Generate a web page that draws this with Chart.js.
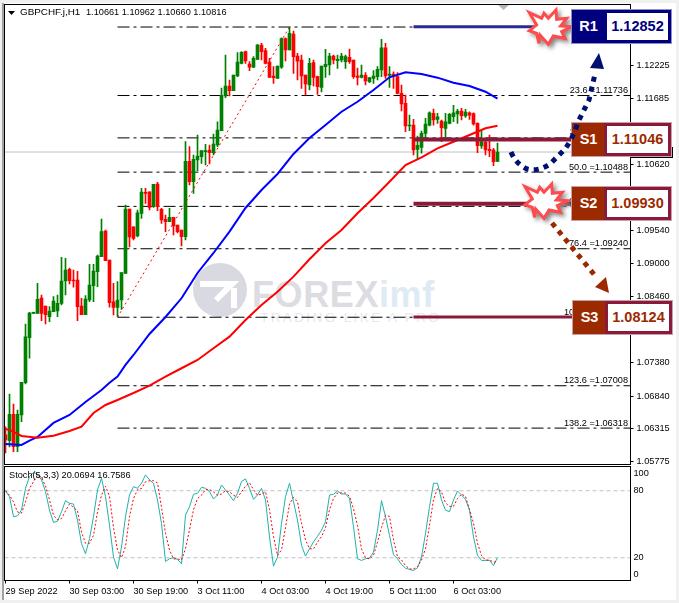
<!DOCTYPE html>
<html>
<head>
<meta charset="utf-8">
<script src="https://cdn.jsdelivr.net/npm/chart.js@4"></script>
<style>
html, body { margin: 0; padding: 0; background: #f0f0f0; }
body { width: 679px; height: 603px; position: relative; overflow: hidden; font-family: "Liberation Sans", sans-serif; }
.sheet { position: absolute; left: 2px; top: 3px; width: 674px; height: 597px; background: #fff; border-left: 2px solid #a0a0a0; box-sizing: border-box; }
canvas { position: absolute; left: 0; }
.abs { position: absolute; white-space: pre; }
.head { font-size: 9.2px; color: #000; line-height: 12px; }
.mark { position: absolute; left: 0; top: 0; }
.box { position: absolute; width: 99px; height: 33px; box-sizing: border-box; font: bold 14.5px/27px "Liberation Sans", sans-serif; box-shadow: 0 0 0 1px var(--halo); }
.box b { position: absolute; left: 0; top: 0; width: 33px; height: 33px; background: var(--tag); color: #fff; text-align: center; line-height: 33px; }
.box span { position: absolute; left: 32px; top: 0; width: 67px; height: 33px; box-sizing: border-box; background: #fff; border: 3px solid var(--edge); color: var(--tag); text-align: center; }
</style>
</head>
<body>
<div class="sheet"></div>

<!-- watermark sits under the canvases -->
<svg class="mark" width="679" height="603">
	<circle cx="220" cy="290" r="27" fill="#d9d9e1"/>
	<path d="M200 284 L232 284 L216 300 M234 288 L234 308" stroke="#fff" stroke-width="6" fill="none"/>
</svg>
<div class="abs" style="left:252px;top:274px;font:bold 36px/42px 'Liberation Sans';letter-spacing:0.6px;color:#dcdce2">FOREX<span style="color:#deebf4">imf</span></div>
<div class="abs" style="left:260px;top:310px;font:13.5px/16px 'Liberation Sans';letter-spacing:2.4px;color:#e8e8ec">TRADING LIKE A PRO</div>

<canvas id="main" width="679" height="466" style="top:0"></canvas>
<canvas id="stoch" width="679" height="137" style="top:466px"></canvas>

<div class="abs" style="left:631px;top:147px;width:42px;height:11px;background:#000"></div>

<div class="abs head" style="left:20px;top:6px;font-size:9.9px">GBPCHF.j,H1</div>
<div class="abs head" style="left:86px;top:6px">1.10661 1.10962 1.10660 1.10816</div>
<div class="abs head" style="left:9px;top:469px">Stoch(5,3,3) 20.0694 16.7586</div>

<svg class="mark" width="679" height="603">
	<path d="M8 11 L15 11 L11.5 15 Z" fill="#000"/>
	<path d="M498 5 L509 5 L503.5 10 Z" fill="#b4b4b4"/>
	<g transform="translate(340 0) scale(0.3333)" style="filter:drop-shadow(8px 8px 6px #888)">
		<path d="M568 38 L605 55 L612 40 L625 55 L648 30 L650 58 L680 55 L662 78 L695 80 L665 95 L675 115 L640 108 L625 133 L600 105 L597 130 L590 100 L568 92 L590 75 Z" fill="#fff" stroke="#ff4b4b" stroke-width="9"/>
	</g>
	<g transform="translate(335.7 174) scale(0.3333)" style="filter:drop-shadow(8px 8px 6px #888)">
		<path d="M568 38 L605 55 L612 40 L625 55 L648 30 L650 58 L680 55 L662 78 L695 80 L665 95 L675 115 L640 108 L625 133 L600 105 L597 130 L590 100 L568 92 L590 75 Z" fill="#fff" stroke="#ff4b4b" stroke-width="9"/>
	</g>
</svg>

<div class="box" style="left:572px;top:10px;--tag:#00007f;--edge:#00007f;--halo:#8f8fc4"><b>R1</b><span>1.12852</span></div>
<div class="box" style="left:572px;top:123px;--tag:#9c2a00;--edge:#8b1a3a;--halo:#c9a0ad"><b>S1</b><span>1.11046</span></div>
<div class="box" style="left:572px;top:187px;--tag:#9c2a00;--edge:#8b1a3a;--halo:#c9a0ad"><b>S2</b><span>1.09930</span></div>
<div class="box" style="left:573px;top:301px;--tag:#9c2a00;--edge:#8b1a3a;--halo:#c9a0ad"><b>S3</b><span>1.08124</span></div>

<svg class="mark" width="679" height="603">
	<path d="M511 152 Q516 164 527 169 Q538 172 550 164 L565 149 Q573 138 578 122 L589 100 L595 74" fill="none" stroke="#00106e" stroke-width="5" stroke-dasharray="5 5.2"/>
	<path d="M599 53 L590 68 L604 69 Z" fill="#00106e"/>
	<path d="M552 223 L597 278" fill="none" stroke="#9c2a00" stroke-width="5" stroke-dasharray="5 5.2"/>
	<path d="M609 293 L595 287 L606 277 Z" fill="#9c2a00"/>
</svg>

<script>
// GBPCHF H1 candles, one entry per bar
const opens = [
	1.06207,1.06114,1.06543,1.06016,1.06532,1.07058,1.07791,1.08188,1.08188,1.08438,
	1.08307,1.08133,1.08214,1.08226,1.08351,1.08714,1.08905,1.08720,1.08731,1.08307,
	1.08165,1.08405,1.08638,1.08866,1.09111,1.09529,1.09057,1.08377,1.08286,1.08405,
	1.08839,1.09887,1.09598,1.09447,1.09817,1.10153,1.10169,1.09925,1.10295,1.09882,
	1.09719,1.09680,1.09751,1.09626,1.09545,1.09436,1.10664,1.10332,1.10686,1.10740,
	1.10822,1.10849,1.10805,1.10930,1.11163,1.11729,1.11891,1.11815,1.12054,1.12261,
	1.12450,1.12250,1.12196,1.12326,1.12559,1.12467,1.12282,1.12054,1.12016,1.12196,
	1.12662,1.12478,1.12738,1.12380,1.12315,1.12070,1.11907,1.12271,1.12043,1.11870,
	1.12206,1.12233,1.12380,1.12304,1.12315,1.12288,1.12359,1.12315,1.12054,1.12033,
	1.12065,1.11961,1.12016,1.12043,1.12152,1.12515,1.12065,1.12087,1.12043,1.11772,
	1.11609,1.11239,1.11255,1.10860,1.10892,1.11120,1.11255,1.11445,1.11348,1.11321,
	1.11201,1.11283,1.11390,1.11435,1.11484,1.11402,1.11456,1.11440,1.11283,1.10914,
	1.10979,1.10860,1.10849,1.10661
];
const highs = [
	1.06337,1.06874,1.06711,1.06613,1.07065,1.08014,1.08205,1.08210,1.08677,1.08487,
	1.08307,1.08296,1.08459,1.08487,1.09101,1.09085,1.08926,1.08894,1.08873,1.08433,
	1.08475,1.08987,1.08987,1.09138,1.09724,1.09545,1.09057,1.08677,1.08703,1.08850,
	1.09952,1.09887,1.09598,1.09871,1.10225,1.10225,1.10169,1.10290,1.10323,1.09899,
	1.09789,1.09899,1.09751,1.09626,1.09545,1.10984,1.10903,1.10767,1.11093,1.10838,
	1.10942,1.10930,1.11109,1.11309,1.11858,1.12396,1.11989,1.12070,1.12434,1.12450,
	1.12462,1.12288,1.12369,1.12571,1.12586,1.12506,1.12342,1.12206,1.12217,1.12678,
	1.12678,1.12852,1.12787,1.12424,1.12396,1.12070,1.12342,1.12315,1.12054,1.12217,
	1.12489,1.12424,1.12396,1.12396,1.12424,1.12396,1.12494,1.12315,1.12184,1.12233,
	1.12108,1.12033,1.12141,1.12206,1.12652,1.12586,1.12206,1.12124,1.12108,1.11907,
	1.11745,1.11418,1.11348,1.11076,1.11158,1.11364,1.11472,1.11516,1.11445,1.11337,
	1.11445,1.11445,1.11576,1.11511,1.11528,1.11511,1.11472,1.11456,1.11293,1.11163,
	1.11039,1.11093,1.10876,1.10962
];
const lows = [
	1.05913,1.06011,1.05934,1.05934,1.06423,1.07037,1.07456,1.08188,1.08188,1.08067,
	1.08014,1.08051,1.08214,1.08133,1.08323,1.08487,1.08666,1.08612,1.08067,1.08165,
	1.08165,1.08377,1.08377,1.08622,1.09111,1.09046,1.08289,1.08161,1.08133,1.08253,
	1.08839,1.09268,1.09383,1.09431,1.09735,1.09980,1.09871,1.09915,1.09860,1.09654,
	1.09518,1.09680,1.09464,1.09497,1.09285,1.09383,1.10278,1.10143,1.10512,1.10632,
	1.10604,1.10621,1.10767,1.10903,1.11163,1.11701,1.11729,1.11815,1.12043,1.12250,
	1.12261,1.12141,1.12190,1.12326,1.12315,1.12250,1.12033,1.11935,1.12016,1.12179,
	1.12299,1.12478,1.12098,1.11989,1.11853,1.11745,1.11826,1.11891,1.11756,1.11793,
	1.12033,1.12070,1.12250,1.12179,1.12282,1.12179,1.12261,1.12016,1.11907,1.12022,
	1.11907,1.11945,1.11935,1.11989,1.12043,1.12016,1.11870,1.11853,1.11761,1.11484,
	1.11147,1.11163,1.10767,1.10697,1.10795,1.11011,1.11239,1.11255,1.11283,1.10983,
	1.11011,1.11272,1.11309,1.11283,1.11337,1.11381,1.11348,1.11255,1.10805,1.10876,
	1.10767,1.10740,1.10592,1.10660
];
const closes = [
	1.06125,1.06543,1.06016,1.06543,1.07065,1.07803,1.08193,1.08205,1.08416,1.08188,
	1.08165,1.08226,1.08389,1.08351,1.08714,1.08894,1.08720,1.08714,1.08296,1.08165,
	1.08421,1.08650,1.08878,1.09122,1.09518,1.09046,1.08361,1.08286,1.08405,1.08850,
	1.09887,1.09431,1.09409,1.09827,1.10164,1.10143,1.09915,1.10290,1.09925,1.09708,
	1.09680,1.09751,1.09610,1.09518,1.09436,1.10664,1.10332,1.10697,1.10751,1.10838,
	1.10833,1.10805,1.10946,1.11174,1.11739,1.11891,1.11815,1.12070,1.12282,1.12440,
	1.12299,1.12196,1.12342,1.12559,1.12450,1.12261,1.12033,1.12027,1.12217,1.12662,
	1.12478,1.12750,1.12369,1.12294,1.12054,1.11924,1.12261,1.12033,1.11880,1.12217,
	1.12245,1.12380,1.12315,1.12326,1.12380,1.12369,1.12288,1.12043,1.12033,1.12070,
	1.11972,1.12027,1.12054,1.12163,1.12515,1.12054,1.12087,1.12054,1.11772,1.11598,
	1.11239,1.11255,1.10849,1.10925,1.11120,1.11272,1.11456,1.11337,1.11390,1.11212,
	1.11309,1.11429,1.11456,1.11484,1.11407,1.11467,1.11418,1.11272,1.10919,1.10984,
	1.10849,1.10838,1.10658,1.10816
];

// moving averages, read every few bars
const blueBars = [0,4,6,8,12,16,20,24,26,28,30,32,36,40,44,48,52,56,60,64,68,72,76,80,84,88,92,96,100,104,108,112,116,120,123];
const blueMa = [1.06059,1.06043,1.06113,1.06173,1.06402,1.06532,1.06744,1.06939,1.07058,1.07156,1.07347,1.07509,1.07851,1.08128,1.08433,1.08845,1.09171,1.09518,1.09904,1.10197,1.10458,1.10784,1.11044,1.11255,1.11472,1.11635,1.11826,1.12033,1.12114,1.12087,1.12027,1.11945,1.11891,1.11798,1.11684];
const redBars = [0,1,4,8,12,16,19,22,25,28,32,36,40,44,48,52,56,60,64,68,72,76,80,84,88,92,96,100,104,108,112,116,120,123];
const redMa = [1.06304,1.06288,1.06190,1.06162,1.06195,1.06271,1.06341,1.06564,1.06695,1.06776,1.06890,1.07009,1.07156,1.07293,1.07428,1.07619,1.07808,1.08079,1.08323,1.08540,1.08785,1.09068,1.09328,1.09545,1.09817,1.10066,1.10332,1.10604,1.10730,1.10876,1.10983,1.11093,1.11202,1.11244];

// fibonacci retracement
const fibLevels = ['0.0','23.6','38.2','50.0','61.8','76.4','100.0','123.6','138.2'];
const fibValues = [1.12852,1.11736,1.11046,1.10488,1.09930,1.09240,1.08124,1.07008,1.06318];
const fibStartBar = 28;
const fibTopBar = 71;
const lastPrice = 1.10816;

// R1, S1, S2, S3 bars drawn from the level to its tag
const levelStartBar = 102;
const levelEndBar = 142;
const levelPrices = [1.12857,1.11020,1.09974,1.08130];
const levelColors = ['#2b2b8f','#8b1a3a','#8b1a3a','#8b1a3a'];

const priceTicks = [1.12765,1.12225,1.11685,1.11150,1.10620,1.10080,1.09540,1.09000,1.08460,1.07920,1.07380,1.06840,1.06315,1.05775];

// stochastic 5,3,3
const stochK = [
	79.8,74.7,56.7,57.6,62.7,82.2,92.7,96.3,94.8,89.7,79.2,62.7,51.6,52.8,61.2,71.1,68.7,68.1,53.7,32.6,
	23.6,37.1,56.7,80.7,91.2,74.7,49.2,20.6,10.1,29.6,56.7,76.2,83.7,82.2,86.7,94.2,89.7,86.7,71.7,50.7,
	16.7,19.1,20,18.5,14.6,58.2,65.7,76.8,77.7,83.1,82.2,79.2,72.6,76.2,85.2,80.7,76.2,71.1,77.7,88.2,
	90.6,82.2,72.3,76.2,82.2,71.7,38.6,12.5,20.6,50.7,74.7,86.7,70.2,53.7,31.1,21.5,28.1,34.1,39.2,44.7,
	52.2,76.2,76.8,79.8,77.1,77.1,73.2,47.7,19.1,17.6,19.1,19.7,25.1,44.7,71.1,56.7,40.1,22.7,19.1,14,
	10.7,9.5,8.6,11,20.6,41.6,65.7,86.7,86.7,71.7,62.7,61.2,71.7,79.8,76.2,72.3,62.7,38.6,22.1,17.6,
	17.6,17.6,13.1,20.07
];
const stochD = [
	80,76,70,61,60,70,82,88,94,92,84,72,58,54,55,62,68,65,62,43,
	33,33,40,61,76,84,75,47,27,20,30,57,73,81,82,88,89,89,87,65,
	42,27,19,19,18,28,45,63,73,76,81,81,79,76,77,80,79,76,74,79,
	84,87,81,76,77,79,63,39,22,27,47,68,74,70,51,36,28,28,34,39,
	47,63,73,78,78,78,75,64,49,28,20,19,22,34,47,58,57,36,21,18,
	13,10,10,12,18,28,49,72,82,79,69,66,66,73,77,75,63,51,33,22,
	18,18,16,16.76
];
const stochBands = [20,80];
const stochTickValues = [5,20,80,95.8];
const stochTickLabels = ['0','20','80','100'];

const timeBars = [0,16,32,48,64,80,96,112];
const timeLabels = ['29 Sep 2022','30 Sep 03:00','30 Sep 19:00','3 Oct 11:00','4 Oct 03:00','4 Oct 19:00','5 Oct 11:00','6 Oct 03:00'];

const UP_COLOR = '#008000';
const DOWN_COLOR = '#ff0000';
const AXIS_FONT = { family: 'Liberation Sans', size: 9.2 };
const X_MIN = -0.25;
const X_MAX = 156.25;

const zip_points = (bars, values) => bars.map((bar, i) => ({ x: bar, y: values[i] }));

const candle_colors = opens.map((open, i) => closes[i] >= open ? UP_COLOR : DOWN_COLOR);

const flat_line = (y, from, to, color, width, dash, order) => ({
	type: 'line',
	data: [{ x: from, y: y }, { x: to, y: y }],
	borderColor: color,
	borderWidth: width,
	borderDash: dash || [],
	pointRadius: 0,
	order: order
});

// tick labels must not pull the scale in from the pane edges
const clear_padding = (scale) => {
	scale.paddingTop = 0;
	scale.paddingBottom = 0;
	scale.paddingLeft = 0;
	scale.paddingRight = 0;
};

// black frame round each pane
const frame_plugin = {
	id: 'frame',
	afterDraw(chart) {
		const { ctx, chartArea: a } = chart;
		ctx.save();
		ctx.strokeStyle = '#000';
		ctx.lineWidth = 1;
		ctx.strokeRect(a.left, a.top, a.right - a.left, a.bottom - a.top);
		ctx.restore();
	}
};

const fib_labels_plugin = {
	id: 'fibLabels',
	afterDatasetsDraw(chart) {
		const { ctx, scales } = chart;
		ctx.save();
		ctx.font = '9.2px "Liberation Sans"';
		ctx.fillStyle = '#000';
		ctx.textAlign = 'right';
		ctx.textBaseline = 'bottom';
		fibLevels.forEach((level, i) => {
			ctx.fillText(level + ' =' + fibValues[i].toFixed(5), 628, scales.y.getPixelForValue(fibValues[i]) - 0.5);
		});
		ctx.restore();
	}
};

new Chart(document.getElementById('main'), {
	type: 'bar',
	data: {
		datasets: [
			{
				data: opens.map((open, i) => ({ x: i, y: [open, closes[i]] })),
				backgroundColor: candle_colors,
				barThickness: 3,
				minBarLength: 1,
				grouped: false,
				order: 6
			},
			{
				data: highs.map((high, i) => ({ x: i, y: [lows[i], high] })),
				backgroundColor: candle_colors,
				barThickness: 1,
				grouped: false,
				order: 7
			},
			{ type: 'line', data: zip_points(blueBars, blueMa), borderColor: '#0000ff', borderWidth: 2, pointRadius: 0, order: 3 },
			{ type: 'line', data: zip_points(redBars, redMa), borderColor: '#ff0000', borderWidth: 2, pointRadius: 0, order: 2 },
			{
				type: 'line',
				data: [{ x: fibStartBar, y: fibValues[6] }, { x: fibTopBar, y: fibValues[0] }],
				borderColor: '#ff0000',
				borderWidth: 1,
				borderDash: [2, 3],
				pointRadius: 0,
				order: 5
			},
			flat_line(lastPrice, X_MIN, X_MAX, '#c0c0c0', 1, null, 9),
			...fibValues.map((value) => flat_line(value, fibStartBar, X_MAX, '#000', 1, [12, 4, 3, 4], 8)),
			...levelPrices.map((value, i) => flat_line(value, levelStartBar, levelEndBar, levelColors[i], i == 0 || i == 3 ? 3 : 4, null, 1))
		]
	},
	options: {
		responsive: false,
		animation: false,
		layout: { padding: { left: 4.5, top: 4.5, right: 0, bottom: 1.5 } },
		plugins: { legend: { display: false }, tooltip: { enabled: false } },
		scales: {
			x: { type: 'linear', min: X_MIN, max: X_MAX, offset: false, display: false, grid: { display: false } },
			y: {
				position: 'right',
				min: 1.05725,
				max: 1.13219,
				afterFit: (scale) => { scale.width = 48.5; clear_padding(scale); },
				afterBuildTicks: (scale) => { scale.ticks = priceTicks.map((value) => ({ value: value })); },
				border: { color: '#000' },
				grid: { drawOnChartArea: false, tickLength: 3, color: '#000' },
				ticks: { color: '#000', font: AXIS_FONT, padding: 3, autoSkip: false, callback: (value) => value.toFixed(5) }
			}
		}
	},
	plugins: [frame_plugin, fib_labels_plugin]
});

new Chart(document.getElementById('stoch'), {
	type: 'line',
	data: {
		datasets: [
			{ data: stochK.map((value, i) => ({ x: i, y: value })), borderColor: '#20b2aa', borderWidth: 1, pointRadius: 0, order: 2 },
			{ data: stochD.map((value, i) => ({ x: i, y: value })), borderColor: '#ff0000', borderWidth: 1, borderDash: [2, 2], pointRadius: 0, order: 1 },
			...stochBands.map((value) => flat_line(value, X_MIN, X_MAX, '#c0c0c0', 1, [4, 3], 3))
		]
	},
	options: {
		responsive: false,
		animation: false,
		layout: { padding: { left: 4.5, top: 0.5, right: 0, bottom: 0 } },
		plugins: { legend: { display: false }, tooltip: { enabled: false } },
		scales: {
			x: {
				type: 'linear',
				min: X_MIN,
				max: X_MAX,
				afterFit: (scale) => { scale.height = 22.5; clear_padding(scale); },
				afterBuildTicks: (scale) => { scale.ticks = timeBars.map((bar) => ({ value: bar })); },
				border: { color: '#000' },
				grid: { drawOnChartArea: false, tickLength: 3, color: '#000' },
				ticks: {
					color: '#000',
					font: AXIS_FONT,
					align: 'start',
					padding: 2,
					maxRotation: 0,
					autoSkip: false,
					callback: (value) => timeLabels[timeBars.indexOf(value)]
				}
			},
			y: {
				position: 'right',
				min: -0.36,
				max: 101.7,
				afterFit: (scale) => { scale.width = 48.5; clear_padding(scale); },
				afterBuildTicks: (scale) => { scale.ticks = stochTickValues.map((value) => ({ value: value })); },
				border: { color: '#000' },
				grid: { drawOnChartArea: false, tickLength: 0, color: '#000' },
				ticks: {
					color: '#000',
					font: AXIS_FONT,
					padding: 3,
					autoSkip: false,
					callback: (value) => stochTickLabels[stochTickValues.indexOf(value)]
				}
			}
		}
	},
	plugins: [frame_plugin]
});
</script>
</body>
</html>
